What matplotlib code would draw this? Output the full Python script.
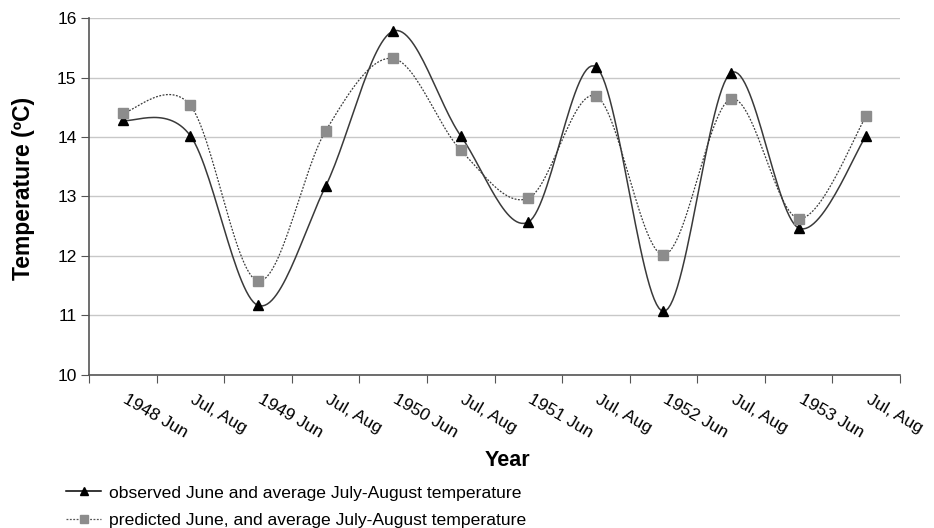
import numpy as np
import matplotlib
matplotlib.use("Agg")
import matplotlib.pyplot as plt
import matplotlib.transforms as mtransforms

# data
labels = ["1948 Jun", "Jul, Aug", "1949 Jun", "Jul, Aug", "1950 Jun", "Jul, Aug",
          "1951 Jun", "Jul, Aug", "1952 Jun", "Jul, Aug", "1953 Jun", "Jul, Aug"]
observed = [14.28, 14.02, 11.17, 13.17, 15.78, 14.02, 12.57, 15.18, 11.07, 15.08, 12.47, 14.02]
predicted = [14.40, 14.53, 11.58, 14.10, 15.32, 13.78, 12.97, 14.69, 12.02, 14.64, 12.63, 14.35]

plt.rcParams['font.family'] = ['Liberation Sans', 'DejaVu Sans']


def smooth(x, y, n=30):
    # Excel-like smoothed line: cubic bezier through points (Catmull-Rom, 1/6)
    x = np.asarray(x, float)
    y = np.asarray(y, float)
    px = np.concatenate([[x[0]], x, [x[-1]]])
    py = np.concatenate([[y[0]], y, [y[-1]]])
    xs, ys = [], []
    t = np.linspace(0, 1, n)
    for i in range(1, len(px) - 2):
        p0 = np.array([px[i], py[i]])
        p3 = np.array([px[i + 1], py[i + 1]])
        c1 = p0 + (np.array([px[i + 1], py[i + 1]]) - np.array([px[i - 1], py[i - 1]])) / 6
        c2 = p3 - (np.array([px[i + 2], py[i + 2]]) - np.array([px[i], py[i]])) / 6
        b = ((1 - t) ** 3)[:, None] * p0 + (3 * (1 - t) ** 2 * t)[:, None] * c1 \
            + (3 * (1 - t) * t ** 2)[:, None] * c2 + (t ** 3)[:, None] * p3
        xs.extend(b[:, 0])
        ys.extend(b[:, 1])
    return np.array(xs), np.array(ys)


x = np.arange(len(labels))

fig = plt.figure(figsize=(9.34, 5.28), dpi=100)
ax = fig.add_axes([0.0953, 0.2898, 0.8683, 0.6761])

sx, sy = smooth(x, observed)
ax.plot(sx, sy, color='#3a3a3a', lw=1.1, zorder=3)
sx2, sy2 = smooth(x, predicted)
ax.plot(sx2, sy2, color='#3a3a3a', lw=0.9, ls=(0, (1.5, 1.2)), zorder=3)
ax.plot(x, observed, ls='none', marker='^', ms=7, color='black', zorder=4)
ax.plot(x, predicted, ls='none', marker='s', ms=6.5, color='#8c8c8c', zorder=4)

# legend proxies
h1, = ax.plot([], [], color='black', lw=1.1, marker='^', ms=6)
h2, = ax.plot([], [], color='#555555', lw=0.9, ls=(0, (1.5, 1.2)), marker='s', ms=6,
              mfc='#8c8c8c', mec='#8c8c8c')

ax.set_xlim(-0.5, 11.5)
ax.set_ylim(10, 16)
ax.set_yticks(range(10, 17))
ax.tick_params(axis='y', labelsize=12.5, length=6, color='#555555', pad=3)
ax.grid(axis='y', color='#c8c8c8', lw=1)
ax.set_axisbelow(True)

ax.set_xticks(np.arange(-0.5, 12, 1))
ax.set_xticklabels([])
ax.tick_params(axis='x', which='major', length=6, color='#555555')
ax.set_xticks(x, minor=True)
ax.set_xticklabels(labels, minor=True, rotation=-30, ha='left', va='top',
                   rotation_mode='anchor', fontsize=12.5)
ax.tick_params(axis='x', which='minor', length=0, pad=12)
shift = mtransforms.ScaledTranslation(5 / 100, 0, fig.dpi_scale_trans)
for lab in ax.get_xticklabels(minor=True):
    lab.set_transform(lab.get_transform() + shift)

for s in ['top', 'right']:
    ax.spines[s].set_visible(False)
for s in ['left', 'bottom']:
    ax.spines[s].set_color('#555555')
    ax.spines[s].set_linewidth(1.2)

fig.text(24 / 934, 1 - 188 / 528, 'Temperature (ºC)', fontsize=16.5, fontweight='bold',
         rotation=90, ha='center', va='center')
fig.text(507 / 934, 1 - 460 / 528, 'Year', fontsize=15.5, fontweight='bold',
         ha='center', va='center')

fig.legend([h1, h2],
           ['observed June and average July-August temperature',
            'predicted June, and average July-August temperature'],
           loc='lower left', bbox_to_anchor=(0.054, -0.03), frameon=False,
           handlelength=2.0, handletextpad=0.45, labelspacing=0.7,
           prop={'family': ['Liberation Sans'], 'size': 12.6})

fig.savefig('out.png', dpi=100)
